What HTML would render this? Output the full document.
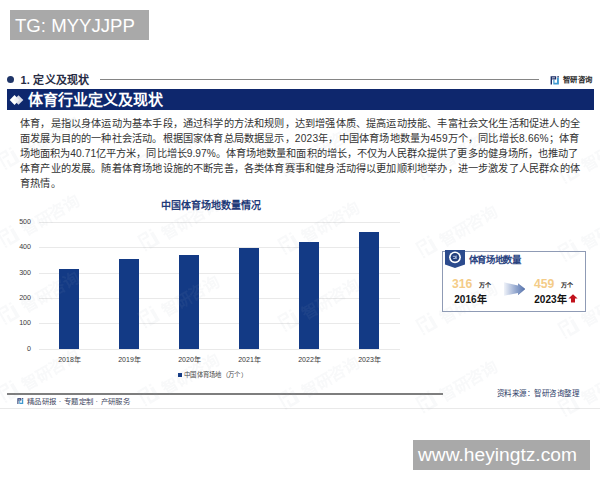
<!DOCTYPE html>
<html lang="zh-CN">
<head>
<meta charset="utf-8">
<style>
html,body{margin:0;padding:0;}
body{width:600px;height:480px;position:relative;overflow:hidden;background:#fff;font-family:"Liberation Sans",sans-serif;}
.a{position:absolute;white-space:nowrap;}
</style>
</head>
<body>

<!-- section header -->
<div class="a" style="left:7px;top:76px;width:7px;height:7px;border-radius:50%;background:#1f3568;"></div>
<div class="a" style="left:20.5px;top:73px;font-size:11px;letter-spacing:0.2px;line-height:14px;font-weight:bold;color:#282c44;">1. 定义及现状</div>
<div class="a" style="left:99.5px;top:79px;width:439px;height:1px;background:#858585;"></div>
<!-- logo -->
<svg class="a" style="left:550px;top:75.5px;" width="10" height="10" viewBox="0 0 10 10">
  <path d="M0.6 0.3H6.2V3.5H2.2V2.3H5V1.5H2V8.5H0.6Z" fill="#1b2d66"/>
  <rect x="7.3" y="0.2" width="1.6" height="1.3" fill="#1b2d66"/>
  <path d="M7 1.8H8.9V8.5H3.3V4.1H4.5V6.7H7Z" fill="#3f9ad0"/>
</svg>
<div class="a" style="left:562.5px;top:75px;font-size:7.4px;letter-spacing:0.5px;line-height:10px;font-weight:bold;color:#2a2a2a;">智研咨询</div>

<!-- blue band -->
<div class="a" style="left:7px;top:89px;width:587px;height:21px;background:#0e276d;"></div>
<svg class="a" style="left:9px;top:94px;" width="16" height="12" viewBox="0 0 16 12">
  <path d="M0.7 6L5.5 1L10.3 6L5.5 11Z" fill="#fff"/>
  <path d="M4.7 6L9.5 1.2L14.3 6L9.5 10.8Z" fill="#f0f0f4" opacity="0.9"/>
</svg>
<div class="a" style="left:28px;top:90px;font-size:15px;line-height:19px;font-weight:bold;color:#fff;">体育行业定义及现状</div>

<!-- paragraph -->
<div class="a" style="left:20px;top:116px;font-size:10.2px;letter-spacing:0.18px;line-height:15px;color:#333;">体育，是指以身体运动为基本手段，通过科学的方法和规则，达到增强体质、提高运动技能、丰富社会文化生活和促进人的全<br>面发展为目的的一种社会活动。根据国家体育总局数据显示，2023年，中国体育场地数量为459万个，同比增长8.66%；体育<br><span style="letter-spacing:0.065px">场地面积为40.71亿平方米，同比增长9.97%。体育场地数量和面积的增长，不仅为人民群众提供了更多的健身场所，也推动了</span><br>体育产业的发展。随着体育场地设施的不断完善，各类体育赛事和健身活动得以更加顺利地举办，进一步激发了人民群众的体<br>育热情。</div>

<!-- chart -->
<div class="a" style="left:161px;top:199px;font-size:10px;line-height:14px;font-weight:bold;color:#1f3a78;">中国体育场地数量情况</div>
<div class="a" style="left:39px;top:348.5px;width:361px;height:1px;background:#e9e9e9;"></div>
<div class="a" style="left:0;width:31px;text-align:right;top:343.6px;font-size:7.1px;line-height:10px;color:#3a3a3a;">0</div>
<div class="a" style="left:39px;top:323.2px;width:361px;height:1px;background:#e9e9e9;"></div>
<div class="a" style="left:0;width:31px;text-align:right;top:318.3px;font-size:7.1px;line-height:10px;color:#3a3a3a;">100</div>
<div class="a" style="left:39px;top:297.9px;width:361px;height:1px;background:#e9e9e9;"></div>
<div class="a" style="left:0;width:31px;text-align:right;top:293.0px;font-size:7.1px;line-height:10px;color:#3a3a3a;">200</div>
<div class="a" style="left:39px;top:272.6px;width:361px;height:1px;background:#e9e9e9;"></div>
<div class="a" style="left:0;width:31px;text-align:right;top:267.7px;font-size:7.1px;line-height:10px;color:#3a3a3a;">300</div>
<div class="a" style="left:39px;top:247.3px;width:361px;height:1px;background:#e9e9e9;"></div>
<div class="a" style="left:0;width:31px;text-align:right;top:242.4px;font-size:7.1px;line-height:10px;color:#3a3a3a;">400</div>
<div class="a" style="left:39px;top:222.0px;width:361px;height:1px;background:#e9e9e9;"></div>
<div class="a" style="left:0;width:31px;text-align:right;top:217.1px;font-size:7.1px;line-height:10px;color:#3a3a3a;">500</div>
<div class="a" style="left:59.4px;top:268.6px;width:19.4px;height:80.0px;background:#133a85;"></div>
<div class="a" style="left:40px;width:59px;text-align:center;top:354.5px;font-size:7px;line-height:10px;color:#383838;">2018年</div>
<div class="a" style="left:119.4px;top:258.9px;width:19.4px;height:89.7px;background:#133a85;"></div>
<div class="a" style="left:100px;width:59px;text-align:center;top:354.5px;font-size:7px;line-height:10px;color:#383838;">2019年</div>
<div class="a" style="left:179.4px;top:254.7px;width:19.4px;height:93.9px;background:#133a85;"></div>
<div class="a" style="left:160px;width:59px;text-align:center;top:354.5px;font-size:7px;line-height:10px;color:#383838;">2020年</div>
<div class="a" style="left:239.4px;top:248.1px;width:19.4px;height:100.5px;background:#133a85;"></div>
<div class="a" style="left:220px;width:59px;text-align:center;top:354.5px;font-size:7px;line-height:10px;color:#383838;">2021年</div>
<div class="a" style="left:299.4px;top:241.7px;width:19.4px;height:106.9px;background:#133a85;"></div>
<div class="a" style="left:280px;width:59px;text-align:center;top:354.5px;font-size:7px;line-height:10px;color:#383838;">2022年</div>
<div class="a" style="left:359.4px;top:232.4px;width:19.4px;height:116.2px;background:#133a85;"></div>
<div class="a" style="left:340px;width:59px;text-align:center;top:354.5px;font-size:7px;line-height:10px;color:#383838;">2023年</div>
<div class="a" style="left:178px;top:373px;width:4px;height:4px;background:#133a85;"></div>
<div class="a" style="left:184px;top:370px;font-size:6.4px;letter-spacing:0.3px;line-height:9px;color:#444;">中国体育场地（万个）</div>

<!-- info box -->
<div class="a" style="left:442px;top:251px;width:141.5px;height:59px;border:1px solid #8f9bb5;"></div>
<svg class="a" style="left:445px;top:250px;" width="20" height="19" viewBox="0 0 20 19">
  <path d="M0 0H20V14.5L10 18L0 14.5Z" fill="#2c4b8d"/>
  <circle cx="10" cy="7.3" r="5.9" fill="#fff"/>
  <circle cx="10" cy="7.3" r="4.3" fill="#243f7c"/>
  <path d="M7.8 6.3h2.6v2.2h-2.2M11.2 5.5v3.6" fill="none" stroke="#b8c6e4" stroke-width="0.9"/>
</svg>
<div class="a" style="left:468.5px;top:253.3px;font-size:9.4px;letter-spacing:-0.3px;line-height:13px;font-weight:bold;color:#2a437f;">体育场地数量</div>
<div class="a" style="left:452px;top:276.5px;font-size:12.2px;line-height:14px;font-weight:bold;color:#f4cc88;">316</div>
<div class="a" style="left:479px;top:280.5px;font-size:6px;line-height:8px;font-weight:bold;color:#222;">万个</div>
<div class="a" style="left:454.3px;top:292.5px;font-size:10px;line-height:13px;font-weight:bold;color:#111;">2016年</div>
<svg class="a" style="left:503px;top:281px;" width="24" height="16" viewBox="0 0 24 16">
  <defs><linearGradient id="ag" x1="0" x2="1" y1="0" y2="0">
    <stop offset="0" stop-color="#f0f3f9"/><stop offset="0.6" stop-color="#8ea3cc"/><stop offset="1" stop-color="#5573ad"/></linearGradient></defs>
  <path d="M1 1.3L15 4.4V2.7L22 8L15 13.8V11.9L1 14.7Z" fill="url(#ag)"/><path d="M15 2.7L22 8L15 13.8" fill="none" stroke="#4a64a0" stroke-width="0.7" opacity="0.8"/>
</svg>
<div class="a" style="left:534px;top:276.5px;font-size:12.2px;line-height:14px;font-weight:bold;color:#f4cc88;">459</div>
<div class="a" style="left:560.5px;top:280.5px;font-size:6px;line-height:8px;font-weight:bold;color:#222;">万个</div>
<div class="a" style="left:534.3px;top:292.5px;font-size:10px;line-height:13px;font-weight:bold;color:#111;">2023年</div>
<svg class="a" style="left:567.8px;top:294px;" width="10" height="9" viewBox="0 0 10 9">
  <path d="M5 0.3L9.6 4.6H7V8.4H3V4.6H0.4Z" fill="#c1121c"/>
</svg>

<!-- footer -->
<div class="a" style="left:7px;top:393px;width:436px;height:1.5px;background:#7e7e7e;"></div>
<div class="a" style="left:0;top:408px;width:600px;height:1px;background:#e9e9e9;"></div>
<svg class="a" style="left:17px;top:398px;" width="7" height="7" viewBox="0 0 10 10">
  <path d="M0.6 0.3H6.2V3.5H2.2V2.3H5V1.5H2V8.5H0.6Z" fill="#1b2d66"/>
  <rect x="7.3" y="0.2" width="1.6" height="1.3" fill="#1b2d66"/>
  <path d="M7 1.8H8.9V8.5H3.3V4.1H4.5V6.7H7Z" fill="#3f9ad0"/>
</svg>
<div class="a" style="left:27px;top:396.5px;font-size:7.4px;letter-spacing:0.33px;line-height:10px;color:#3e4660;">精品研报 · 专题定制 · 产研服务</div>
<div class="a" style="left:496.5px;top:388.5px;font-size:7.5px;letter-spacing:0.55px;line-height:10px;color:#2b3a66;">资料来源：智研咨询整理</div>

<svg class="a" style="left:0;top:0;pointer-events:none;" width="600" height="480" viewBox="0 0 600 480">
<defs><g id="wl" transform="translate(0,-20) scale(2)"><path d="M0.4 0.3H5.6V3.6H2V2.6H4.5V1.3H1.4V7.6H0.4Z"/><rect x="0.4" y="8" width="1" height="1.1"/><rect x="7" y="0.3" width="1.3" height="1.1"/><path d="M6.8 2.3H8.6V9.1H3V5.2H4.2V7.8H6.8Z"/></g></defs>
<g fill="#a4acb8" opacity="0.075" font-family="Liberation Sans, sans-serif">
<g transform="translate(6,172.0) rotate(-30)"><use href="#wl"/><text x="24" y="-2" font-size="16" font-weight="bold">智研咨询</text></g>
<g transform="translate(146,175.5) rotate(-30)"><use href="#wl"/><text x="24" y="-2" font-size="16" font-weight="bold">智研咨询</text></g>
<g transform="translate(286,179.0) rotate(-30)"><use href="#wl"/><text x="24" y="-2" font-size="16" font-weight="bold">智研咨询</text></g>
<g transform="translate(424,182.4) rotate(-30)"><use href="#wl"/><text x="24" y="-2" font-size="16" font-weight="bold">智研咨询</text></g>
<g transform="translate(566,186.0) rotate(-30)"><use href="#wl"/><text x="24" y="-2" font-size="16" font-weight="bold">智研咨询</text></g>
<g transform="translate(6,250.0) rotate(-30)"><use href="#wl"/><text x="24" y="-2" font-size="16" font-weight="bold">智研咨询</text></g>
<g transform="translate(146,253.5) rotate(-30)"><use href="#wl"/><text x="24" y="-2" font-size="16" font-weight="bold">智研咨询</text></g>
<g transform="translate(286,257.0) rotate(-30)"><use href="#wl"/><text x="24" y="-2" font-size="16" font-weight="bold">智研咨询</text></g>
<g transform="translate(424,260.4) rotate(-30)"><use href="#wl"/><text x="24" y="-2" font-size="16" font-weight="bold">智研咨询</text></g>
<g transform="translate(566,264.0) rotate(-30)"><use href="#wl"/><text x="24" y="-2" font-size="16" font-weight="bold">智研咨询</text></g>
<g transform="translate(6,327.0) rotate(-30)"><use href="#wl"/><text x="24" y="-2" font-size="16" font-weight="bold">智研咨询</text></g>
<g transform="translate(146,330.5) rotate(-30)"><use href="#wl"/><text x="24" y="-2" font-size="16" font-weight="bold">智研咨询</text></g>
<g transform="translate(286,334.0) rotate(-30)"><use href="#wl"/><text x="24" y="-2" font-size="16" font-weight="bold">智研咨询</text></g>
<g transform="translate(424,337.4) rotate(-30)"><use href="#wl"/><text x="24" y="-2" font-size="16" font-weight="bold">智研咨询</text></g>
<g transform="translate(566,341.0) rotate(-30)"><use href="#wl"/><text x="24" y="-2" font-size="16" font-weight="bold">智研咨询</text></g>
<g transform="translate(6,405.0) rotate(-30)"><use href="#wl"/><text x="24" y="-2" font-size="16" font-weight="bold">智研咨询</text></g>
<g transform="translate(146,408.5) rotate(-30)"><use href="#wl"/><text x="24" y="-2" font-size="16" font-weight="bold">智研咨询</text></g>
<g transform="translate(286,412.0) rotate(-30)"><use href="#wl"/><text x="24" y="-2" font-size="16" font-weight="bold">智研咨询</text></g>
<g transform="translate(424,415.4) rotate(-30)"><use href="#wl"/><text x="24" y="-2" font-size="16" font-weight="bold">智研咨询</text></g>
<g transform="translate(566,419.0) rotate(-30)"><use href="#wl"/><text x="24" y="-2" font-size="16" font-weight="bold">智研咨询</text></g>
</g></svg>
<!-- overlays -->
<div class="a" style="left:10px;top:10px;width:138.5px;height:30px;background:#a9a9a9;"></div>
<div class="a" style="left:15px;top:13.8px;font-size:18.6px;line-height:24px;color:#fff;">TG: MYYJJPP</div>
<div class="a" style="left:413px;top:440px;width:176.5px;height:30px;background:#a9a9a9;"></div>
<div class="a" style="left:418px;top:443px;font-size:19.2px;line-height:24px;color:#fff;">www.heyingtz.com</div>

</body>
</html>
